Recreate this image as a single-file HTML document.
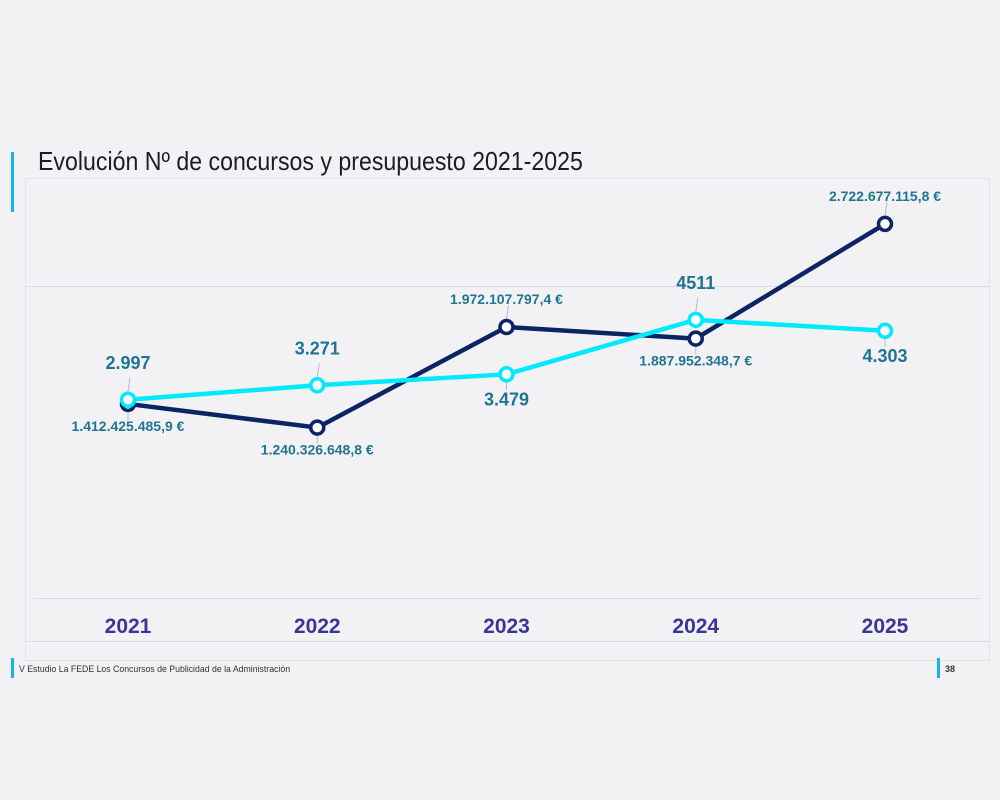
<!DOCTYPE html>
<html><head><meta charset="utf-8"><style>
body{margin:0;width:1000px;height:800px;background:#f2f2f5;font-family:"Liberation Sans",sans-serif;overflow:hidden}
svg{position:absolute;left:0;top:0}
</style></head><body>
<svg width="1000" height="800">
<rect x="11" y="152" width="3" height="60" fill="#14b4e8"/>
<text x="38" y="170" font-size="26" fill="#1b1b2b" transform="translate(38 0) scale(0.89 1) translate(-38 0)">Evolución Nº de concursos y presupuesto 2021-2025</text>
<rect x="25.5" y="178.5" width="964" height="482" fill="none" stroke="#e2e2ef"/>
<line x1="25" y1="286.5" x2="990" y2="286.5" stroke="#dcdcee"/>
<line x1="33" y1="598.5" x2="980" y2="598.5" stroke="#dcdcee"/>
<line x1="25" y1="641.5" x2="990" y2="641.5" stroke="#dcdcee"/>
<g id="years"></g>
<g id="dark"></g>
<g id="cyan"></g>
<rect x="11" y="658" width="3" height="20" fill="#14b4e8"/>
<text x="19" y="672" font-size="9" fill="#333" transform="translate(19 0) scale(0.97 1) translate(-19 0)">V Estudio La FEDE Los Concursos de Publicidad de la  Administración</text>
<rect x="937" y="658" width="3" height="20" fill="#14b4e8"/>
<text x="945" y="672" font-size="9" font-weight="bold" fill="#333">38</text>
</svg>
<script>
const years=["2021","2022","2023","2024","2025"];
const budget=[1412.4254859,1240.3266488,1972.1077974,1887.9523487,2722.6771158];
const budgetLabels=["1.412.425.485,9 €","1.240.326.648,8 €","1.972.107.797,4 €","1.887.952.348,7 €","2.722.677.115,8 €"];
const counts=[2997,3271,3479,4511,4303];
const countLabels=["2.997","3.271","3.479","4511","4.303"];
const budgetLabelPos=["below","below","above","below","above"];
const countLabelPos=["above","above","below","above","below"];
const NS="http://www.w3.org/2000/svg";
const x=i=>128+i*189.25;
const yB=v=>598-v*0.1374;
const yC=v=>558-v*0.0528;
function mk(tag,attrs,parent){const e=document.createElementNS(NS,tag);for(const k in attrs)e.setAttribute(k,attrs[k]);parent.appendChild(e);return e;}
const gy=document.getElementById('years');
years.forEach((y,i)=>{const t=mk('text',{x:x(i),y:633,'font-size':21,'font-weight':'bold',fill:'#3a3596','text-anchor':'middle'},gy);


t.textContent=y;});
function series(g,vals,yf,color,labels,pos,fs,lblName){
 const p=mk('polyline',{points:vals.map((v,i)=>x(i)+','+yf(v)).join(' '),fill:'none',stroke:color,'stroke-width':4.5,'stroke-linejoin':'round'},g);
 
 
 vals.forEach((v,i)=>{
  const cx=x(i),cy=yf(v);
  const above=pos[i]==='above';
  const l=mk('line',{x1:cx,y1:cy+(above?-8:8),x2:cx+(above?2:0),y2:cy+(above?-22:16),stroke:'#b9b6dd','stroke-width':1},g);
  
  
  const c=mk('circle',{cx:cx,cy:cy,r:6.5,fill:'#fff',stroke:color,'stroke-width':3.5},g);
  
  
  const t=mk('text',{x:cx,y:above?cy-(fs>15?31:23):cy+(fs>15?31:27),'font-size':fs,'font-weight':'bold',fill:'#1f7591','text-anchor':'middle'},g);
  
  
  t.textContent=labels[i];
 });
}
series(document.getElementById('dark'),budget,yB,'#0b2463',budgetLabels,budgetLabelPos,14,'budget');
series(document.getElementById('cyan'),counts,yC,'#00eaff',countLabels,countLabelPos,18,'count');
</script>
</body></html>
